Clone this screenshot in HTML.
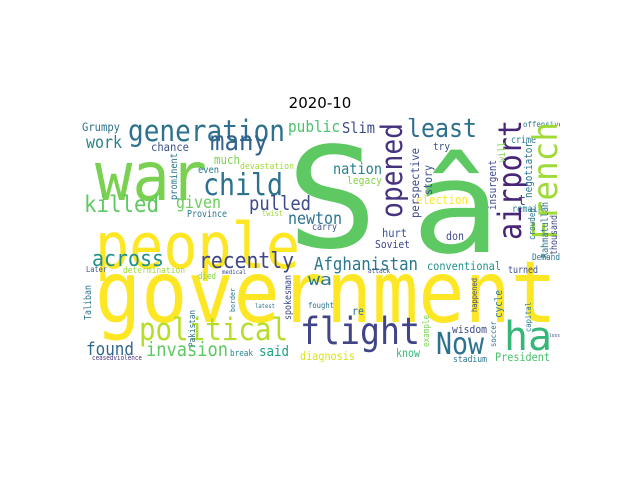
<!DOCTYPE html>
<html><head><meta charset="utf-8">
<style>
html,body{margin:0;padding:0;background:#fff;}
svg{display:block;}
</style></head>
<body>
<svg id="chart" width="640" height="480" viewBox="0 0 640 480" xmlns="http://www.w3.org/2000/svg">
<defs><clipPath id="clip"><rect x="80" y="118" width="480" height="244"/></clipPath></defs>
<rect width="640" height="480" fill="#fff"/>
<text x="320" y="108" text-anchor="middle" font-family="DejaVu Sans, Liberation Sans, sans-serif" font-size="15" fill="#000">2020-10</text>
<g id="cloud" clip-path="url(#clip)" font-family="DejaVu Sans Mono, Liberation Mono, monospace"></g>
</svg>
<script>
// word, x, baseline, fontSize, color, length, vertical(0/1)
const words = ["S","â","government","people","war","generation","many","child","killed","given","pulled","work","Grumpy","chance","much","devastation","even","Province","twist","public","Slim","newton","least","nation","legacy","try","election","remain","crime","offensive","t","hurt","don","carry","Afghanistan","Soviet","conventional","Demand","turned","attack","wa","fought","re","flight","Now","ha","political","found","invasion","said","break","diagnosis","across","recently","determination","Later","died","medical","wisdom","know","President","stadium","latest","loss","ceasedviolence",
"prominent","opened","airport","French","perspective","story","insurgent","will","negotiator","crowded","Rahmatullah","thousand","Taliban","Pakistan","spokesman","border","cycle","capital","soccer","example","happened"];
const xs = [286,411,95,95,95,128,210,203,84,176,249,86,82,151,214,240,198,187,262,288,342,288,407,333,347,433,416,512,511,523,518,382,446,312,314,375,427,532,508,368,308,308,352,300,436,504,139,86,146,259,230,300,92,199,123,86,198,222,452,396,495,453,255,549,92,
177,402,521,557,419,432,496,505,532,535,548,557,91,195,291,235,502,531,496,429,477];
const ys = [247,252,322,268,200,141,150,195,212,208,210,148,131,151,164,169,173,217,216,132,133,224,137,174,184,150,204,212,143,127,205,237,240,230,270,248,270,260,273,273,285,308,315,344,354,350,340,355,356,356,356,360,266,268,273,272,279,274,333,357,361,362,308,337,360,
200,218,240,240,218,195,210,162,198,240,258,255,320,347,320,312,318,332,347,347,312];
const sizes = [140,128,88,72,68,30,32,32,26,22,24,18,14,14,13,12,11,12,10,17,17,19,28,18,14,11,16,11,10,11,14,15,15,16,21,13,14,12,12,9,16,12,15,40,32,40,38,20,22,20,12,14,26,24,11,10,10,7,14,13,16,10,9,13,8,
12,30,32,34,14,12,11,12,11,10,10,10,10,10,11,8,12,12,11,11,8];
const colors = ["#5ec962","#5ec962","#fde725","#fde725","#7ad151","#2c728e","#33638d","#2c718e","#5ec962","#6ccd5a","#3e4a89","#26828e","#2c728e","#3b528b","#7ad151","#a0da39","#2a788e","#2a788e","#a0da39","#4ac16d","#3e4989","#2c728e","#2e6f8e","#277f8e","#86d549","#3b528b","#fde725","#26828e","#2a788e","#2a788e","#3e4a89","#3a548c","#3e4a89","#3b528b","#2a788e","#404588","#21908d","#2a788e","#3e4a89","#3e4a89","#2a788e","#2c728e","#2a788e","#414487","#2c728e","#35b779","#b5de2b","#31688e","#5ec962","#1fa187","#26828e","#d8e219","#20928c","#3f4788","#a0da39","#3b528b","#86d549","#3e4a89","#3e4a89","#35b779","#4ac16d","#2a788e","#2c728e","#3e4a89","#46327e",
"#2a788e","#46327e","#482576","#a0da39","#3e4c8a","#3b528b","#3e4a89","#7ad151","#2a788e","#2c728e","#2c728e","#3e4a89","#2a788e","#2c728e","#3e4a89","#2a788e","#2a788e","#2a788e","#2c728e","#7ad151","#3e4a89"];
const lengths = [92,90,462,205,112,157,58,80,75,45,62,36,38,38,26,54,21,40,21,52,33,54,70,49,35,17,52,31,25,40,8,25,18,25,104,35,74,28,30,22,24,26,12,120,48,48,149,48,82,30,23,55,72,95,62,21,18,24,35,24,55,34,20,11,50,
47,95,120,118,70,30,50,20,56,32,56,40,35,37,45,24,28,30,26,32,34];
const vertical = [0,0,0,0,0,0,0,0,0,0,0,0,0,0,0,0,0,0,0,0,0,0,0,0,0,0,0,0,0,0,0,0,0,0,0,0,0,0,0,0,0,0,0,0,0,0,0,0,0,0,0,0,0,0,0,0,0,0,0,0,0,0,0,0,0,
1,1,1,1,1,1,1,1,1,1,1,1,1,1,1,1,1,1,1,1,1];
const NS = "http://www.w3.org/2000/svg";
const g = document.getElementById("cloud");
for (let i = 0; i < words.length; i++) {
  const n = words[i].length;
  const fs = Math.min(sizes[i], 1.12 * lengths[i] / (0.602 * n));
  const t = document.createElementNS(NS, "text");
  
  
  t.setAttribute("x", 0);
  t.setAttribute("y", 0);
  t.setAttribute("font-size", fs.toFixed(1));
  t.setAttribute("fill", colors[i]);
  t.setAttribute("textLength", lengths[i]);
  t.setAttribute("lengthAdjust", "spacingAndGlyphs");
  t.setAttribute("transform", "translate(" + xs[i] + "," + ys[i] + ")" + (vertical[i] ? " rotate(-90)" : ""));
  t.textContent = words[i];
  g.appendChild(t);
}
</script>
</body></html>
